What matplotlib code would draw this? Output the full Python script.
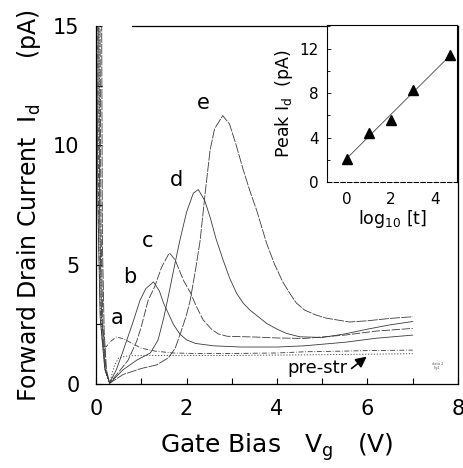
import matplotlib
matplotlib.use("Agg")
import matplotlib.pyplot as plt
import numpy as np
from matplotlib.ticker import MultipleLocator

plt.rcParams['font.family'] = ['DejaVu Sans']
plt.rcParams['mathtext.fontset'] = 'dejavusans'

# ---- main data: gate bias (V) vs forward drain current (pA) ----
a_x = [0.03, 0.06, 0.10, 0.15, 0.22, 0.30, 0.45, 0.60, 0.80, 1.00, 1.30, 1.70, 2.20, 3.00, 4.00, 4.60, 5.50, 6.00, 7.00]
a_y = [18.0, 6.0, 2.6, 1.6, 1.55, 1.75, 1.97, 1.90, 1.70, 1.50, 1.38, 1.30, 1.28, 1.28, 1.30, 1.35, 1.38, 1.40, 1.42]

b_x = [0.05, 0.08, 0.12, 0.20, 0.30, 0.45, 0.60, 0.80, 0.97, 1.10, 1.27, 1.40, 1.49, 1.60, 1.71, 1.85, 2.00, 2.20, 2.60, 3.20, 4.00, 4.60, 5.50, 6.20, 7.00]
b_y = [18.0, 7.0, 3.0, 0.6, 0.05, 0.6, 1.4, 2.5, 3.5, 4.0, 4.28, 3.9, 3.4, 2.95, 2.5, 2.1, 1.85, 1.70, 1.60, 1.55, 1.55, 1.60, 1.75, 1.92, 2.05]

c_x = [0.08, 0.11, 0.15, 0.22, 0.30, 0.50, 0.71, 0.90, 1.00, 1.15, 1.30, 1.45, 1.62, 1.75, 1.93, 2.08, 2.22, 2.37, 2.55, 2.70, 2.90, 3.50, 4.00, 4.60, 5.50, 6.20, 7.00]
c_y = [18.0, 6.5, 2.5, 0.5, 0.04, 0.5, 1.0, 1.8, 2.4, 3.5, 4.1, 4.9, 5.5, 5.2, 4.35, 3.85, 3.24, 2.68, 2.30, 2.10, 2.00, 1.97, 1.93, 1.91, 2.05, 2.22, 2.33]

d_x = [0.01, 0.04, 0.09, 0.19, 0.30, 0.60, 0.90, 1.20, 1.37, 1.50, 1.60, 1.75, 1.85, 2.00, 2.15, 2.26, 2.40, 2.52, 2.65, 2.81, 2.95, 3.11, 3.25, 3.40, 3.60, 3.77, 4.00, 4.21, 4.50, 5.00, 5.50, 6.00, 6.50, 7.00]
d_y = [18.0, 7.5, 2.8, 0.7, 0.03, 0.6, 1.0, 1.3, 1.84, 2.8, 3.7, 5.1, 6.0, 7.2, 8.0, 8.15, 7.7, 7.0, 6.1, 5.19, 4.45, 3.79, 3.4, 3.1, 2.8, 2.54, 2.3, 2.12, 1.98, 1.95, 2.10, 2.30, 2.48, 2.62]

e_x = [0.12, 0.14, 0.18, 0.23, 0.30, 0.60, 1.00, 1.34, 1.60, 1.75, 1.89, 2.00, 2.08, 2.20, 2.30, 2.41, 2.52, 2.62, 2.80, 2.95, 3.10, 3.25, 3.40, 3.55, 3.77, 3.95, 4.13, 4.30, 4.43, 4.61, 4.85, 5.09, 5.60, 6.00, 6.50, 7.00]
e_y = [18.0, 6.0, 2.2, 0.6, 0.03, 0.4, 0.65, 0.8, 1.1, 1.5, 2.26, 2.9, 3.5, 4.8, 6.0, 7.97, 9.8, 10.7, 11.25, 10.9, 10.0, 9.0, 8.1, 7.28, 5.9, 5.0, 4.27, 3.75, 3.39, 3.1, 2.9, 2.76, 2.6, 2.65, 2.75, 2.82]

pre_x = [0.06, 0.09, 0.13, 0.20, 0.30, 0.40, 0.50, 0.70, 1.50, 3.00, 4.60, 6.00, 7.00]
pre_y = [18.0, 6.0, 2.0, 0.5, 0.03, 0.75, 1.10, 1.18, 1.20, 1.20, 1.22, 1.25, 1.27]

curve_labels = ['a', 'b', 'c', 'd', 'e']
label_x = [0.46, 0.75, 1.15, 1.78, 2.38]
label_y = [2.76, 4.49, 6.00, 8.54, 11.80]

# ---- inset data: peak Id vs log10(t) ----
ins_x = [0.0, 1.0, 2.0, 3.0, 4.7]
ins_y = [2.1, 4.4, 5.6, 8.3, 11.4]

fig = plt.figure(figsize=(4.64, 4.68), dpi=100)
ax = fig.add_axes([0.207, 0.1795, 0.780, 0.7645])

lc = '#3a3a3a'
lw = 0.6
ax.plot(a_x, a_y, color=lc, lw=lw, ls=(0, (6, 2, 1, 2)))
ax.plot(b_x, b_y, color=lc, lw=lw, ls='-')
ax.plot(c_x, c_y, color=lc, lw=lw, ls=(0, (10, 2)))
ax.plot(d_x, d_y, color=lc, lw=lw, ls='-')
ax.plot(e_x, e_y, color=lc, lw=lw, ls=(0, (12, 1.5)))
ax.plot(pre_x, pre_y, color=lc, lw=lw, ls=(0, (1.5, 2)))

for lab, lx, ly in zip(curve_labels, label_x, label_y):
    ax.text(lx, ly, lab, fontsize=15, ha='center', va='center')

ax.text(4.9, 0.66, 'pre-str', fontsize=13, ha='center', va='center')
ax.annotate('', xy=(6.03, 1.22), xytext=(5.6, 0.58),
            arrowprops=dict(arrowstyle='-|>', color='black', lw=1.2, mutation_scale=16))
ax.text(7.55, 0.75, 'data 2\nfig1', fontsize=2.5, ha='center', va='center', color='#555555')

ax.set_xlim(0, 8)
ax.set_ylim(0, 15)
ax.xaxis.set_major_locator(MultipleLocator(2))
ax.xaxis.set_minor_locator(MultipleLocator(1))
ax.yaxis.set_major_locator(MultipleLocator(5))
ax.yaxis.set_minor_locator(MultipleLocator(2.5))
ax.tick_params(which='both', direction='in', labelsize=15, width=0.8)
ax.tick_params(which='both', length=4)
ax.tick_params(axis='x', pad=11)
ax.tick_params(axis='y', pad=12)
ax.spines['top'].set_bounds(0.8, 8)
for s in ax.spines.values():
    s.set_linewidth(0.9)

ax.set_xlabel(r'Gate Bias   $\mathregular{V_g}$   (V)', fontsize=18, labelpad=9)
ax.set_ylabel(r'Forward Drain Current  $\mathregular{I_d}$      (pA)', fontsize=17, labelpad=7)

# ---- inset ----
ins = fig.add_axes([0.705, 0.611, 0.280, 0.335])
coef = np.polyfit(ins_x, ins_y, 1)
fx = np.array([min(ins_x), max(ins_x)])
ins.plot(fx, np.polyval(coef, fx), color='#444444', lw=0.6)
ins.plot(ins_x, ins_y, ls='none', marker='^', ms=7.5, color='black')
ins.set_xlim(-0.9, 5.0)
ins.set_ylim(0, 14.1)
ins.xaxis.set_major_locator(MultipleLocator(2))
ins.yaxis.set_major_locator(MultipleLocator(4))
ins.yaxis.set_minor_locator(MultipleLocator(2))
ins.tick_params(which='both', direction='in', labelsize=11, width=0.6)
ins.tick_params(which='major', length=3, pad=6)
ins.tick_params(which='minor', length=2)
ins.tick_params(axis='x', length=0, pad=7)
for s in ins.spines.values():
    s.set_linewidth(0.8)
ins.spines['bottom'].set_linestyle((0, (4, 2)))
ins.set_xlabel(r'$\mathregular{log_{10}}$ [t]', fontsize=12.5, labelpad=1)
ins.set_ylabel(r'Peak $\mathregular{I_d}$  (pA)', fontsize=12.5, labelpad=3)

fig.savefig('out.png', dpi=100)
